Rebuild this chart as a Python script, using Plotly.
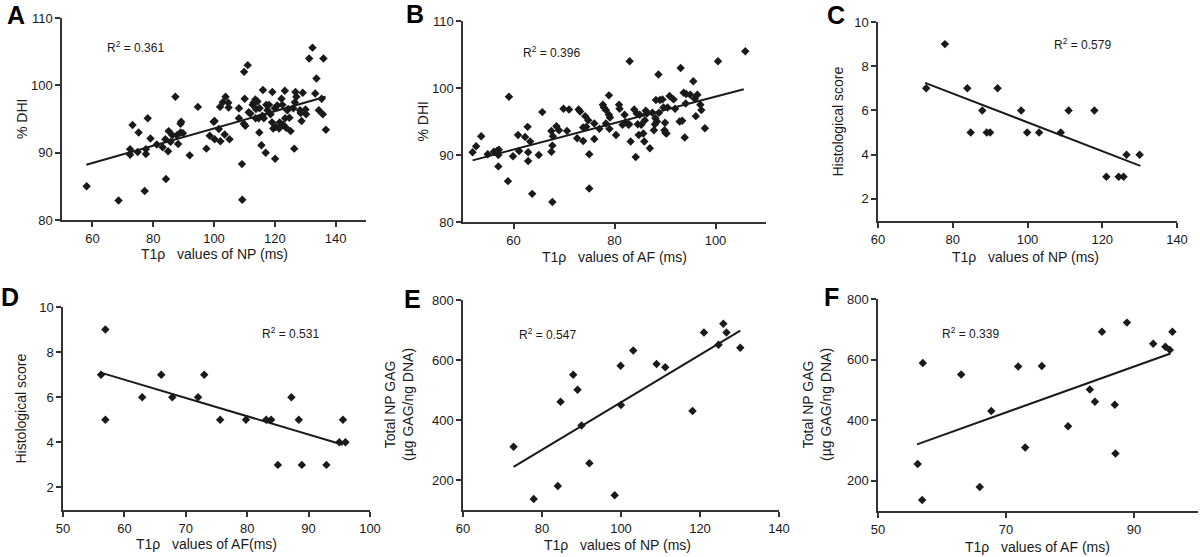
import plotly.graph_objects as go

# ---------------- data ----------------
# Panel A: T1rho of NP vs %DHI
a_x = [58.1,68.6,72.4,72.4,73.2,74.9,75.2,77.2,77.6,77.6,
       78.2,79.1,81.2,83.1,84.0,84.2,84.9,85.1,85.7,86.3,
       87.3,87.8,88.2,89.0,89.0,89.2,89.8,92.0,94.7,97.5,
       98.6,99.9,100.2,100.2,101.6,102.1,102.0,102.9,103.5,103.8,
       104.7,104.8,105.1,108.2,108.2,109.2,109.3,109.8,109.9,110.1,
       110.3,111.1,111.4,112.0,112.7,113.0,113.6,113.7,113.8,114.3,
       114.7,114.9,115.0,115.6,115.9,116.1,116.4,117.0,117.2,117.6,
       118.1,118.6,119.1,119.2,119.5,120.0,120.1,120.3,120.8,121.4,
       121.6,122.2,122.5,122.8,123.3,123.4,123.7,124.1,124.4,124.8,
       125.2,126.1,126.4,126.6,126.8,127.1,128.3,128.5,128.8,129.2,
       130.1,130.3,131.3,132.4,133.3,133.7,134.5,135.4,136.0,135.8,136.8]
a_y = [85.0,82.9,89.7,90.5,94.1,90.1,93.0,84.3,89.8,90.5,
       95.1,92.1,91.2,90.8,92.0,86.1,90.2,93.2,91.6,92.6,
       98.3,92.6,91.3,93.0,94.3,94.6,92.9,89.6,96.8,90.6,
       92.5,94.6,94.7,92.0,93.5,91.7,96.8,97.5,92.7,98.3,
       97.4,96.7,92.0,96.6,95.1,88.3,83.0,94.3,102.0,98.0,
       94.0,103.0,96.0,95.8,97.1,97.4,97.9,95.1,96.5,97.6,
       95.1,93.0,96.6,91.1,95.5,99.3,95.1,90.0,97.1,96.3,
       97.1,95.7,94.5,99.0,93.6,96.6,89.1,93.8,97.0,93.6,
       94.5,98.0,97.1,94.1,99.2,95.1,93.7,96.3,96.5,95.2,
       93.2,96.6,90.6,97.5,99.0,98.3,96.3,95.9,94.7,98.9,
       96.4,95.7,104.0,105.6,98.8,101.0,96.3,98.0,104.0,95.7,93.4]
a_fit_x = [58.0, 136.7]
a_fit_y = [88.2, 98.3]

# Panel B: T1rho of AF vs %DHI
b_x = [51.9,52.6,53.6,54.9,56.1,56.7,57.0,57.0,57.1,58.9,
       59.1,59.9,60.9,61.1,62.3,62.8,62.9,62.9,63.3,63.7,
       65.7,65.0,67.5,67.8,67.7,67.5,67.7,68.5,69.0,69.9,
       70.6,71.0,72.6,72.9,73.2,73.8,73.8,74.2,74.4,74.8,
       75.0,75.0,76.0,76.0,77.0,77.7,77.9,78.3,78.3,78.9,
       78.9,79.1,79.0,80.3,80.9,81.0,81.6,82.0,82.2,82.8,
       82.9,83.0,83.2,83.9,84.2,84.4,84.6,84.8,85.0,85.3,
       85.7,85.9,86.0,86.2,86.4,87.0,87.5,87.8,88.0,88.1,
       88.2,88.4,88.7,88.8,89.0,89.5,89.7,89.9,90.0,90.1,
       90.3,90.5,90.9,91.7,92.0,92.9,93.1,93.4,93.7,93.9,
       94.1,94.2,95.0,95.6,95.9,96.1,96.4,97.0,97.2,97.9,
       100.5,105.9]
b_y = [90.4,91.3,92.8,90.1,90.5,90.6,90.0,88.3,90.8,86.1,
       98.7,89.8,93.0,90.6,92.7,94.2,90.4,89.1,92.0,84.2,
       96.4,90.0,93.6,92.8,91.4,90.5,83.0,94.3,93.7,96.9,
       93.6,96.8,92.5,96.8,96.5,94.1,92.1,95.8,94.2,95.2,
       85.0,90.1,94.7,92.4,93.9,97.5,97.1,96.7,94.7,98.9,
       96.0,95.6,93.9,93.0,97.5,96.9,94.5,96.0,94.9,94.5,
       94.6,104.0,92.0,96.8,89.7,96.2,94.6,93.0,96.0,94.5,
       93.2,92.0,95.2,96.6,96.2,91.0,96.3,93.7,94.6,95.5,
       98.2,95.0,102.0,96.3,98.2,98.3,97.1,93.7,94.8,93.3,
       93.2,97.1,98.8,98.3,96.9,95.0,103.0,95.1,99.3,92.6,
       97.7,99.1,99.0,101.0,98.4,95.8,99.0,97.5,96.7,94.0,
       104.0,105.5]
b_fit_x = [51.9, 105.6]
b_fit_y = [89.2, 99.8]

# Panel C: T1rho of NP vs histological score
c_x = [72.9,77.9,83.9,84.8,87.9,89.1,90.0,92.0,98.3,99.9,
       103.1,108.9,111.0,117.9,121.1,124.4,125.7,126.5,130.0]
c_y = [7,9,7,5,6,5,5,7,6,5,5,5,6,6,3,3,3,4,4]
c_fit_x = [72.6, 130.2]
c_fit_y = [7.25, 3.49]

# Panel D: T1rho of AF vs histological score
d_x = [56.2,56.9,56.9,62.9,66.0,67.8,72.0,73.0,75.6,79.8,
       83.1,83.9,85.0,87.2,88.4,88.9,92.9,95.0,95.6,96.0]
d_y = [7,9,5,6,7,6,6,7,5,5,5,5,3,6,5,3,3,4,5,4]
d_fit_x = [56.0, 95.6]
d_fit_y = [7.1, 3.89]

# Panel E: T1rho of NP vs total NP GAG
e_x = [72.8,77.9,84.0,84.7,87.9,89.0,90.0,92.0,98.4,99.9,
       100.0,103.1,109.0,111.2,118.1,121.0,124.7,125.9,126.7,130.2]
e_y = [311,137,180,461,551,501,382,256,149,581,
       450,632,587,576,430,692,651,721,692,641]
e_fit_x = [72.8, 130.2]
e_fit_y = [244, 698]

# Panel F: T1rho of AF vs total NP GAG
f_x = [56.2,56.9,57.0,63.0,65.9,67.7,71.9,73.0,75.6,79.7,
       83.1,83.9,85.0,87.1,87.0,88.9,93.0,94.9,95.6,96.0]
f_y = [255,136,589,551,179,430,577,310,579,380,
       501,461,692,290,451,722,652,642,632,692]
f_fit_x = [56.1, 95.7]
f_fit_y = [320, 620]

r2_values = ["0.361", "0.396", "0.579", "0.531", "0.547", "0.339"]
panel_letters = ["A", "B", "C", "D", "E", "F"]
x_titles = ["T1ρ\u00a0\u00a0\u00a0values of NP (ms)",
            "T1ρ\u00a0\u00a0\u00a0values of AF (ms)",
            "T1ρ\u00a0\u00a0\u00a0values of NP (ms)",
            "T1ρ\u00a0\u00a0\u00a0values of AF(ms)",
            "T1ρ\u00a0\u00a0\u00a0values of NP (ms)",
            "T1ρ\u00a0\u00a0\u00a0values of AF (ms)"]
y_titles = ["% DHI", "% DHI", "Histological score", "Histological score",
            "Total NP GAG<br>(µg GAG/ng DNA)", "Total NP GAG<br>(µg GAG/ng DNA)"]
x_ticks = [[60, 80, 100, 120, 140], [60, 80, 100], [60, 80, 100, 120, 140],
           [50, 60, 70, 80, 90, 100], [60, 80, 100, 120, 140], [50, 70, 90]]
y_ticks = [[80, 90, 100, 110], [80, 90, 100, 110], [2, 4, 6, 8, 10],
           [2, 4, 6, 8, 10], [200, 400, 600, 800], [200, 400, 600, 800]]
x_ranges = [[50, 150], [50, 110], [60, 140], [50, 100], [60, 140], [50, 100]]
y_ranges = [[80, 110], [80, 110], [1, 10], [1, 10], [100, 800], [100, 800]]

xs = [a_x, b_x, c_x, d_x, e_x, f_x]
ys = [a_y, b_y, c_y, d_y, e_y, f_y]
fxs = [a_fit_x, b_fit_x, c_fit_x, d_fit_x, e_fit_x, f_fit_x]
fys = [a_fit_y, b_fit_y, c_fit_y, d_fit_y, e_fit_y, f_fit_y]

# ---------------- layout (pixel geometry) ----------------
W, H = 1200, 557
# plot-area pixel boxes: (left, right, top, bottom)
boxes = [(62, 366, 18, 220), (463, 766, 21, 222), (878, 1177, 22, 221),
         (63, 370, 307, 510), (463, 779, 300, 510), (878, 1198, 299, 511)]
r2_pos = [(64, 105.7), (61.5, 105.4), (106.5, 9.0), (82.1, 8.86), (73.7, 687), (59.7, 687)]
letter_pos = [(16, 15), (415, 14), (836, 15), (10, 297), (412, 299), (831, 297)]
xtitle_pos = [(214, 254), (614, 257), (1025, 257), (206, 544), (617, 545), (1037, 547)]
ytitle_x = [22, 422, 837, 20, 399, 817]

INK = "#1a1a1a"
FONT = "Liberation Sans, Arial, Helvetica, sans-serif"

def fx(p):
    return p / W

def fy(p):
    return 1 - p / H

fig = go.Figure()
layout = dict(
    width=W, height=H, margin=dict(l=0, r=0, t=0, b=0, autoexpand=False),
    paper_bgcolor="white", plot_bgcolor="white", showlegend=False,
    font=dict(family=FONT, color=INK, size=13),
)
annotations = []

for i in range(6):
    n = "" if i == 0 else str(i + 1)
    xa, ya = "x" + n, "y" + n
    l, r, t, b = boxes[i]
    fig.add_trace(go.Scatter(
        x=xs[i], y=ys[i], mode="markers", xaxis=xa, yaxis=ya,
        marker=dict(symbol="diamond", size=6.5, color=INK, line=dict(width=0)),
        hoverinfo="x+y", cliponaxis=False))
    fig.add_trace(go.Scatter(
        x=fxs[i], y=fys[i], mode="lines", xaxis=xa, yaxis=ya,
        line=dict(color=INK, width=2), hoverinfo="skip"))
    axis_common = dict(showgrid=False, zeroline=False, showline=True,
                       linecolor="#333333", linewidth=1.5, ticks="outside",
                       ticklen=5, tickwidth=1.5, tickcolor="#333333",
                       tickfont=dict(size=13, color=INK, family=FONT),
                       automargin=False, fixedrange=True)
    layout["xaxis" + n] = dict(axis_common, domain=[fx(l), fx(r)], anchor=ya,
                               range=x_ranges[i], tickmode="array",
                               tickvals=x_ticks[i], ticklabelstandoff=1)
    layout["yaxis" + n] = dict(axis_common, domain=[fy(b), fy(t)], anchor=xa,
                               range=y_ranges[i], tickmode="array",
                               tickvals=y_ticks[i])
    # R^2 label
    annotations.append(dict(
        x=r2_pos[i][0], y=r2_pos[i][1], xref=xa, yref=ya,
        text="R<sup>2</sup> = " + r2_values[i], showarrow=False,
        xanchor="left", yanchor="middle", font=dict(size=12, color=INK)))
    # panel letter
    annotations.append(dict(
        x=fx(letter_pos[i][0]), y=fy(letter_pos[i][1]), xref="paper", yref="paper",
        text="<b>" + panel_letters[i] + "</b>", showarrow=False,
        xanchor="center", yanchor="middle",
        font=dict(size=25, color="#000000", family=FONT)))
    # x title
    annotations.append(dict(
        x=fx(xtitle_pos[i][0]), y=fy(xtitle_pos[i][1]), xref="paper", yref="paper",
        text=x_titles[i], showarrow=False, xanchor="center", yanchor="middle",
        font=dict(size=14, color=INK)))
    # y title
    annotations.append(dict(
        x=fx(ytitle_x[i]), y=fy((t + b) / 2), xref="paper", yref="paper",
        text=y_titles[i], showarrow=False, textangle=-90,
        xanchor="center", yanchor="middle", font=dict(size=14, color=INK)))

layout["annotations"] = annotations
fig.update_layout(**layout)
fig.write_html("out.html", config={"displayModeBar": False},
               post_script="document.body.style.margin='0';document.body.style.overflow='hidden';")
